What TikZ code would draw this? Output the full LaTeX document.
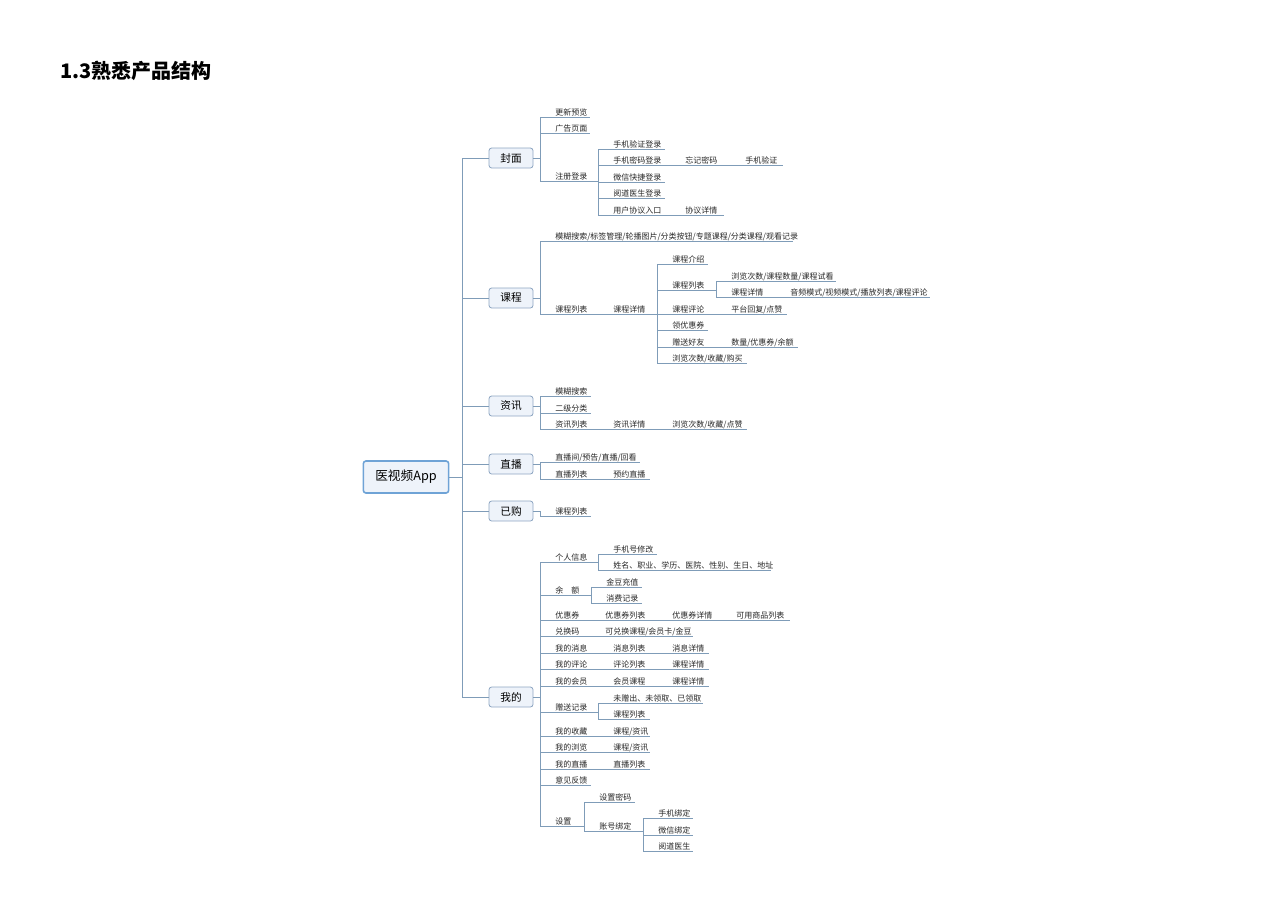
\documentclass[tikz,border=0pt]{standalone}
\usepackage{fontspec}
\setmainfont{Noto Sans CJK SC}
\usetikzlibrary{positioning,calc}
\definecolor{branchc}{HTML}{7F9CB8}
\definecolor{boxfill}{HTML}{EEF3FA}
\definecolor{boxdraw}{HTML}{8EA6C2}
\definecolor{rootdraw}{HTML}{6FA3D6}

% one underlined item: name, line start, line end, line y, text
\newcommand\seg[5]{%
  \draw[branch] (#2,#4) -- (#3,#4);
  \node[leaf] (#1) at (#2+15,#4-2) {#5};}
% vertical spine: x, top y, bottom y
\newcommand\spine[3]{\draw[branch] (#1,#2) -- (#1,#3);}

\begin{document}
\begin{tikzpicture}[
    x=0.75pt, y=-0.75pt,
    branch/.style={draw=branchc, line width=0.6pt},
    leaf/.style={anchor=base west, inner sep=0pt, font=\fontsize{6}{7}\selectfont, text=black!85},
    topic/.style={rectangle, rounded corners=2pt, draw=boxdraw, fill=boxfill, line width=0.6pt,
                  minimum width=33pt, minimum height=15pt, inner sep=0pt, font=\fontsize{8}{9}\selectfont},
    root/.style={topic, draw=rootdraw, line width=1.2pt, minimum width=64pt, minimum height=24pt,
                 font=\fontsize{9.5}{11}\selectfont}
]
\useasboundingbox (0,0) rectangle (1280,910);

\node[anchor=base west, inner sep=0pt, font=\fontsize{15}{18}\selectfont\bfseries] (title) at (60,78) {1.3熟悉产品结构};

% root and main spine
\node[root] (app) at (406,477) {医视频App};
\node[topic] (fengmian) at (511,158) {封面};
\node[topic] (kecheng) at (511,298) {课程};
\node[topic] (zixun) at (511,406) {资讯};
\node[topic] (zhibo) at (511,464) {直播};
\node[topic] (yigou) at (511,511) {已购};
\node[topic] (wode) at (511,697) {我的};

\draw[branch] (app.east) -- (462,477);
\spine{462}{158}{697}
\foreach \t/\y in {fengmian/158, kecheng/298, zixun/406, zhibo/464, yigou/511, wode/697}{
  \draw[branch] (462,\y) -- (\t.west);
  \draw[branch] (\t.east) -- (540,\y);
}

% 封面
\spine{540}{117}{181}
\seg{gxyl}{540}{590}{117}{更新预览}
\seg{ggym}{540}{590}{133}{广告页面}
\seg{zcdl}{540}{598}{181}{注册登录}
\spine{598}{149}{215}
\seg{sjyzdl}{598}{665}{149}{手机验证登录}
\seg{sjmmdl}{598}{670}{165}{手机密码登录}
\seg{wjmm}{670}{730}{165}{忘记密码}
\seg{sjyz}{730}{783}{165}{手机验证}
\seg{wxdl}{598}{665}{182}{微信快捷登录}
\seg{ydysdl}{598}{665}{198}{阅道医生登录}
\seg{yhxy}{598}{670}{215}{用户协议入口}
\seg{xyxq}{670}{724}{215}{协议详情}

% 课程
\spine{540}{241}{314}
\seg{mhss}{540}{793}{241}{模糊搜索/标签管理/轮播图片/分类按钮/专题课程/分类课程/观看记录}
\seg{kclb}{540}{598}{314}{课程列表}
\seg{kcxq}{598}{657}{314}{课程详情}
\spine{657}{264}{363}
\seg{kcjs}{657}{708}{264}{课程介绍}
\seg{kclbb}{657}{716}{290}{课程列表}
\spine{716}{281}{297}
\seg{llcs}{716}{836}{281}{浏览次数/课程数量/课程试看}
\seg{kcxqq}{716}{775}{297}{课程详情}
\seg{ypms}{775}{930}{297}{音频模式/视频模式/播放列表/课程评论}
\seg{kcpl}{657}{716}{314}{课程评论}
\seg{pthf}{716}{787}{314}{平台回复/点赞}
\seg{lyhq}{657}{708}{330}{领优惠券}
\seg{zshy}{657}{716}{347}{赠送好友}
\seg{slyh}{716}{798}{347}{数量/优惠券/余额}
\seg{llsc}{657}{747}{363}{浏览次数/收藏/购买}

% 资讯
\spine{540}{396}{429}
\seg{zxss}{540}{591}{396}{模糊搜索}
\seg{ejfl}{540}{591}{413}{二级分类}
\seg{zxlb}{540}{598}{429}{资讯列表}
\seg{zxxq}{598}{657}{429}{资讯详情}
\seg{zxll}{657}{747}{429}{浏览次数/收藏/点赞}

% 直播
\spine{540}{462}{479}
\seg{zbj}{540}{640}{462}{直播间/预告/直播/回看}
\seg{zblb}{540}{598}{479}{直播列表}
\seg{yyzb}{598}{650}{479}{预约直播}

% 已购
\spine{540}{511}{516}
\seg{ygkc}{540}{591}{516}{课程列表}

% 我的
\spine{540}{562}{826}
\seg{grxx}{540}{598}{562}{个人信息}
\spine{598}{554}{570}
\seg{sjxg}{598}{657}{554}{手机号修改}
\seg{xmzy}{598}{771}{570}{姓名、职业、学历、医院、性别、生日、地址}
\seg{ye}{540}{591}{595}{余\quad 额}
\spine{591}{587}{603}
\seg{jdcz}{591}{642}{587}{金豆充值}
\seg{xfjl}{591}{642}{603}{消费记录}
\seg{yhq}{540}{590}{620}{优惠券}
\seg{yhqlb}{590}{657}{620}{优惠券列表}
\seg{yhqxq}{657}{721}{620}{优惠券详情}
\seg{kysp}{721}{790}{620}{可用商品列表}
\seg{dhm}{540}{590}{636}{兑换码}
\seg{kdhkc}{590}{693}{636}{可兑换课程/会员卡/金豆}
\seg{wdxx}{540}{598}{653}{我的消息}
\seg{xxlb}{598}{657}{653}{消息列表}
\seg{xxxq}{657}{709}{653}{消息详情}
\seg{wdpl}{540}{598}{669}{我的评论}
\seg{pllb}{598}{657}{669}{评论列表}
\seg{plkc}{657}{709}{669}{课程详情}
\seg{wdhy}{540}{598}{686}{我的会员}
\seg{hykc}{598}{657}{686}{会员课程}
\seg{hyxq}{657}{709}{686}{课程详情}
\seg{zsjl}{540}{598}{712}{赠送记录}
\spine{598}{703}{719}
\seg{wzc}{598}{703}{703}{未赠出、未领取、已领取}
\seg{zskc}{598}{650}{719}{课程列表}
\seg{wdsc}{540}{598}{736}{我的收藏}
\seg{sczx}{598}{650}{736}{课程/资讯}
\seg{wdll}{540}{598}{752}{我的浏览}
\seg{llzx}{598}{650}{752}{课程/资讯}
\seg{wdzb}{540}{598}{769}{我的直播}
\seg{wdzblb}{598}{650}{769}{直播列表}
\seg{yjfk}{540}{591}{785}{意见反馈}
\seg{sz}{540}{584}{826}{设置}
\spine{584}{802}{831}
\seg{szmm}{584}{635}{802}{设置密码}
\seg{zhbd}{584}{643}{831}{账号绑定}
\spine{643}{818}{851}
\seg{sjbd}{643}{693}{818}{手机绑定}
\seg{wxbd}{643}{693}{835}{微信绑定}
\seg{ydys}{643}{693}{851}{阅道医生}
\end{tikzpicture}
\end{document}
